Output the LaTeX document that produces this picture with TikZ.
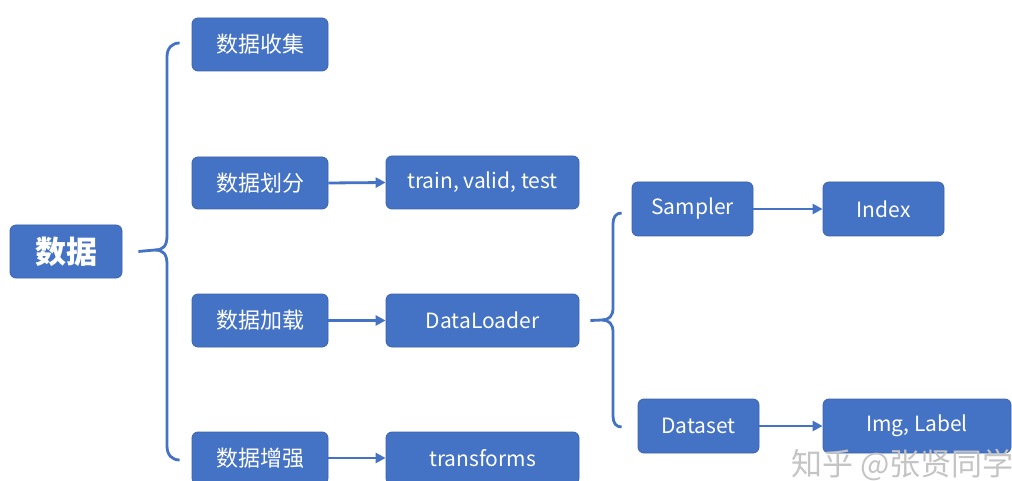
\documentclass[tikz,border=0pt]{standalone}
\usepackage{fontspec}
\setmainfont{Noto Sans CJK SC}
\usetikzlibrary{arrows.meta}
\definecolor{boxblue}{HTML}{4472C4}
\definecolor{boxedge}{HTML}{3B63AE}
\definecolor{wm}{HTML}{C4C4C4}
\tikzset{
  box/.style={draw=boxedge, line width=0.8pt, fill=boxblue, rounded corners=6pt, text=white, inner sep=0pt, font=\fontsize{22}{26}\selectfont},
  latin/.style={font=\fontsize{21}{25}\selectfont},
  conn/.style={draw=boxblue, line width=2.8pt, -{Triangle[length=10pt,width=10pt]}},
  brace/.style={draw=boxblue, line width=2.8pt}
}
\begin{document}
\begin{tikzpicture}[x=1pt,y=-1pt]
\useasboundingbox (0,0) rectangle (1012,481);
% main node
\node[box, minimum width=112pt, minimum height=53pt, font=\fontsize{31}{34}\selectfont\bfseries] (root) at (66,251.5) {数据};
% level 2
\node[box, minimum width=136pt, minimum height=53pt] (collect) at (260,44.5) {数据收集};
\node[box, minimum width=136pt, minimum height=52pt] (split) at (260,183) {数据划分};
\node[box, minimum width=136pt, minimum height=53pt] (load) at (260,320.5) {数据加载};
\node[box, minimum width=136pt, minimum height=52pt] (aug) at (260,458) {数据增强};
% level 3
\node[box, latin, minimum width=193pt, minimum height=53pt] (tvt) at (482.5,182.5) {train, valid, test};
\node[box, latin, minimum width=193pt, minimum height=53pt] (dl) at (482.5,320.5) {DataLoader};
\node[box, latin, minimum width=193pt, minimum height=52pt] (tf) at (482.5,458) {transforms};
% level 4
\node[box, latin, minimum width=121pt, minimum height=54pt] (sampler) at (692.5,209) {Sampler};
\node[box, latin, minimum width=121pt, minimum height=54pt] (index) at (883.5,209) {Index};
\node[box, latin, minimum width=121pt, minimum height=54pt] (dataset) at (698.5,426) {Dataset};
\node[box, latin, minimum width=188pt, minimum height=54pt] (img) at (917,426) {Img, Label};
% arrows
\draw[conn] (split.east) -- (tvt.west);
\draw[conn] (load.east) -- (dl.west);
\draw[conn] (aug.east) -- (tf.west);
\draw[conn] (sampler.east) -- (index.west);
\draw[conn] (dataset.east) -- (img.west);
% left brace
\coordinate (lb) at ([xshift=16pt]root.east);
\coordinate (lbm) at (155,250);
\coordinate (lbt) at ([xshift=-12pt]collect.west |- 0,43);
\coordinate (lbb) at ([xshift=-12pt]aug.west |- 0,460);
\draw[brace] (lb) -- (lbm)
  .. controls (163,250) and (167,246) .. (167,236) -- (167,57)
  .. controls (167,48) and (172,43) .. (lbt);
\draw[brace] (lbm)
  .. controls (163,250) and (167,254) .. (167,264) -- (167,446)
  .. controls (167,455) and (172,460) .. (lbb);
% right brace
\coordinate (rb) at ([xshift=11pt]dl.east);
\coordinate (rbm) at (602,320);
\coordinate (rbt) at ([xshift=-10pt]sampler.west |- 0,213);
\coordinate (rbb) at ([xshift=-16pt]dataset.west |- 0,427);
\draw[brace] (rb) -- (rbm)
  .. controls (609,320) and (613,316) .. (613,308) -- (613,224)
  .. controls (613,217) and (616,213) .. (rbt);
\draw[brace] (rbm)
  .. controls (609,320) and (613,324) .. (613,332) -- (613,416)
  .. controls (613,423) and (616,427) .. (rbb);
% watermark
\node[text=wm, font=\fontsize{31}{34}\selectfont, anchor=east, inner sep=0pt] (wmark) at (1014,465) {知乎 @张贤同学};
\end{tikzpicture}
\end{document}
